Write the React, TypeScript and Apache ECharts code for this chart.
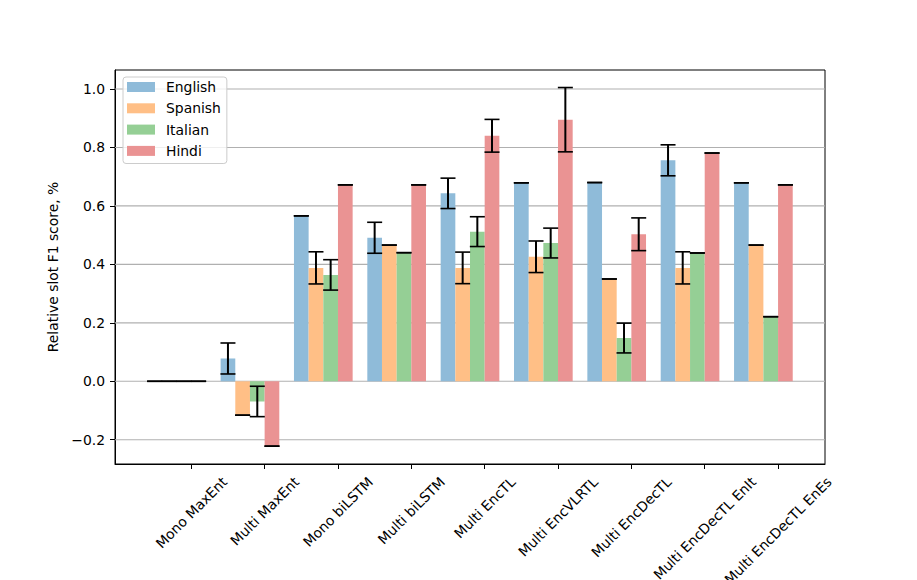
import React, { useEffect, useRef } from 'react';
import * as echarts from 'echarts';

// ---- data ----
const CATEGORIES = [
  'Mono MaxEnt',
  'Multi MaxEnt',
  'Mono biLSTM',
  'Multi biLSTM',
  'Multi EncTL',
  'Multi EncVLRTL',
  'Multi EncDecTL',
  'Multi EncDecTL EnIt',
  'Multi EncDecTL EnEs',
];
const SERIES_NAMES = ['English', 'Spanish', 'Italian', 'Hindi'];

const ENGLISH = [0, 0.078, 0.566, 0.491, 0.643, 0.679, 0.68, 0.756, 0.679];
const ENGLISH_ERR = [0, 0.053, 0, 0.053, 0.052, 0, 0, 0.053, 0];
const SPANISH = [0, -0.116, 0.388, 0.466, 0.388, 0.426, 0.35, 0.388, 0.466];
const SPANISH_ERR = [0, 0, 0.055, 0, 0.054, 0.054, 0, 0.055, 0];
const ITALIAN = [0, -0.069, 0.364, 0.44, 0.512, 0.473, 0.148, 0.439, 0.221];
const ITALIAN_ERR = [0, 0.052, 0.052, 0, 0.051, 0.051, 0.051, 0, 0];
const HINDI = [0, -0.222, 0.672, 0.672, 0.84, 0.895, 0.503, 0.781, 0.672];
const HINDI_ERR = [0, 0, 0, 0, 0.056, 0.11, 0.056, 0, 0];

const Y_TICKS = [-0.2, 0.0, 0.2, 0.4, 0.6, 0.8, 1.0];
const X_TICKS = CATEGORIES.map((_, i) => i);

// ---- styles / layout ----
const VALUES = [ENGLISH, SPANISH, ITALIAN, HINDI];
const ERRORS = [ENGLISH_ERR, SPANISH_ERR, ITALIAN_ERR, HINDI_ERR];
const COLORS = ['#8fbbd9', '#ffbf86', '#95cf95', '#ea9393'];
const FONT = '"DejaVu Sans", sans-serif';
const FS = 13.9;
const BAR_W = 0.2;
const OFFSETS = [-0.5, -0.3, -0.1, 0.1];
const X_MIN = -1.04;
const X_MAX = 8.64;
const Y_MIN = -0.283;
const Y_MAX = 1.065;

let measureCtx: CanvasRenderingContext2D | null = null;
function textWidth(s: string): number {
  if (!measureCtx) {
    measureCtx = document.createElement('canvas').getContext('2d');
  }
  if (!measureCtx) return s.length * FS * 0.6;
  measureCtx.font = `${FS}px "DejaVu Sans"`;
  return measureCtx.measureText(s).width;
}

function fmtTick(v: number): string {
  const s = Math.abs(v).toFixed(1);
  return v < -1e-9 ? '\u2212' + s : s;
}

export default function App() {
  const ref = useRef<HTMLDivElement>(null);

  useEffect(() => {
    if (!ref.current) return;
    const chart = echarts.init(ref.current, undefined, { renderer: 'svg' });

    const barSeries = SERIES_NAMES.map((name, i) => ({
      type: 'custom',
      name,
      clip: false,
      z: 2,
      itemStyle: { color: COLORS[i] },
      data: VALUES[i].map((v, k) => [k + OFFSETS[i], v]),
      renderItem: (params: any, api: any) => {
        const x = api.value(0);
        const v = api.value(1);
        const p0 = api.coord([x - BAR_W / 2, v]);
        const p1 = api.coord([x + BAR_W / 2, 0]);
        return {
          type: 'rect',
          shape: {
            x: Math.min(p0[0], p1[0]),
            y: Math.min(p0[1], p1[1]),
            width: Math.abs(p1[0] - p0[0]),
            height: Math.abs(p1[1] - p0[1]),
          },
          style: { fill: COLORS[i] },
        };
      },
    }));

    const errData: number[][] = [];
    SERIES_NAMES.forEach((_, i) => {
      VALUES[i].forEach((v, k) => {
        errData.push([k + OFFSETS[i], v, ERRORS[i][k]]);
      });
    });

    const errSeries = {
      type: 'custom',
      name: 'errors',
      clip: false,
      z: 5,
      data: errData,
      renderItem: (params: any, api: any) => {
        const x = api.value(0);
        const v = api.value(1);
        const e = api.value(2);
        const top = api.coord([x, v + e]);
        const bot = api.coord([x, v - e]);
        const cap = 7.5;
        const children: any[] = [];
        if (e > 0) {
          children.push({
            type: 'line',
            shape: { x1: top[0], y1: top[1], x2: bot[0], y2: bot[1] },
            style: { stroke: '#000', lineWidth: 2 },
          });
        }
        children.push({
          type: 'line',
          shape: { x1: top[0] - cap, y1: top[1], x2: top[0] + cap, y2: top[1] },
          style: { stroke: '#000', lineWidth: 1.6 },
        });
        children.push({
          type: 'line',
          shape: { x1: bot[0] - cap, y1: bot[1], x2: bot[0] + cap, y2: bot[1] },
          style: { stroke: '#000', lineWidth: 1.6 },
        });
        return { type: 'group', children };
      },
    };

    const gridSeries = {
      type: 'custom',
      name: 'gridlines',
      clip: false,
      z: 1,
      silent: true,
      data: Y_TICKS.map((v) => [0, v]),
      renderItem: (params: any, api: any) => {
        const v = api.value(1);
        const a = api.coord([X_MIN, v]);
        const b = api.coord([X_MAX, v]);
        return {
          type: 'line',
          shape: { x1: a[0], y1: a[1], x2: b[0], y2: b[1] },
          style: { stroke: '#b0b0b0', lineWidth: 1.1 },
        };
      },
    };

    const labelSeries = {
      type: 'custom',
      name: 'xlabels',
      clip: false,
      z: 3,
      silent: true,
      data: X_TICKS.map((k) => [k, Y_MIN]),
      renderItem: (params: any, api: any) => {
        const k = api.value(0);
        const p = api.coord([k, Y_MIN]);
        const text = CATEGORIES[params.dataIndex];
        const w = textWidth(text);
        const h = 16;
        const half = ((w + h) * Math.SQRT1_2) / 2;
        return {
          type: 'text',
          x: p[0],
          y: p[1] + 9.7 + half,
          rotation: Math.PI / 4,
          style: {
            text,
            fill: '#000',
            fontSize: FS,
            fontFamily: FONT,
            align: 'center',
            verticalAlign: 'middle',
          },
        };
      },
    };

    chart.setOption({
      animation: false,
      backgroundColor: '#ffffff',
      grid: {
        left: 115,
        top: 70,
        width: 710,
        height: 394,
        show: true,
        borderColor: '#000',
        borderWidth: 1,
        backgroundColor: 'transparent',
      },
      legend: {
        orient: 'vertical',
        left: 123,
        top: 77,
        data: SERIES_NAMES.map((n) => ({ name: n, icon: 'rect' })),
        itemWidth: 28,
        itemHeight: 10,
        itemGap: 7.3,
        padding: [3, 6, 5.6, 4],
        backgroundColor: 'rgba(255,255,255,0.8)',
        borderColor: '#cccccc',
        borderWidth: 1,
        borderRadius: 3,
        selectedMode: false,
        textStyle: {
          color: '#000',
          fontSize: FS,
          fontFamily: FONT,
          lineHeight: 14,
          padding: [0, 0, 0, 6],
        },
      },
      xAxis: {
        type: 'value',
        min: X_MIN,
        max: X_MAX,
        splitLine: { show: false },
        axisLine: { show: true, onZero: false, lineStyle: { color: '#000', width: 1 } },
        axisTick: {
          show: true,
          customValues: X_TICKS,
          length: 5,
          lineStyle: { color: '#000', width: 1 },
        },
        axisLabel: { show: false },
      },
      yAxis: {
        type: 'value',
        min: Y_MIN,
        max: Y_MAX,
        splitLine: { show: false },
        axisLine: { show: true, onZero: false, lineStyle: { color: '#000', width: 1 } },
        axisTick: {
          show: true,
          customValues: Y_TICKS,
          length: 5,
          lineStyle: { color: '#000', width: 1 },
        },
        axisLabel: {
          show: true,
          customValues: Y_TICKS,
          formatter: (v: number) => fmtTick(v),
          margin: 10,
          color: '#000',
          fontSize: FS,
          fontFamily: FONT,
        },
        name: 'Relative slot F1 score, %',
        nameLocation: 'middle',
        nameGap: 57.5,
        nameTextStyle: {
          color: '#000',
          fontSize: FS,
          fontFamily: FONT,
          align: 'center',
          verticalAlign: 'middle',
        },
      },
      series: [gridSeries, ...barSeries, errSeries, labelSeries],
    } as any);

    return () => {
      chart.dispose();
    };
  }, []);

  return (
    <div
      ref={ref}
      style={{ position: 'absolute', left: 0, top: 0, width: 917, height: 580, background: '#fff' }}
    />
  );
}
